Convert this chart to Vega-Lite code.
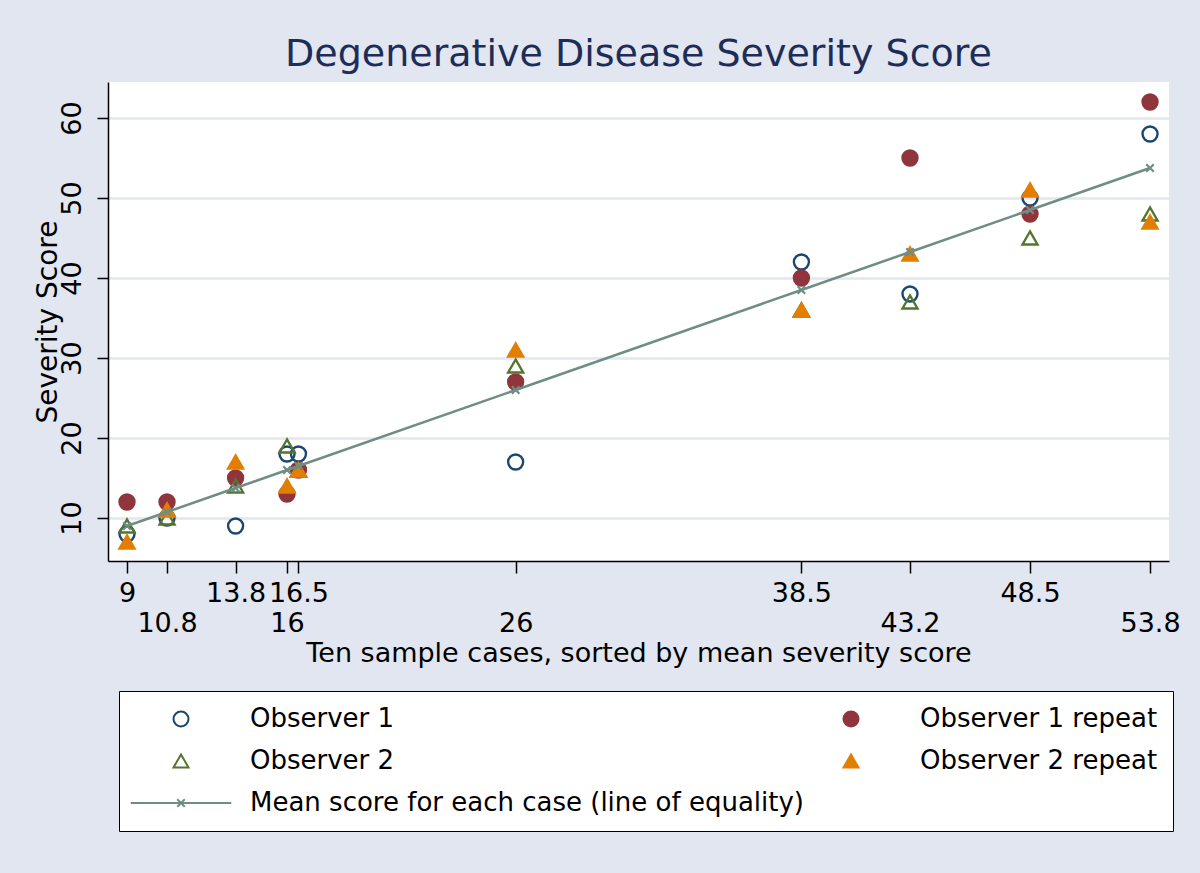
{
  "$schema": "https://vega.github.io/schema/vega-lite/v6.json",
  "width": 1061,
  "height": 479,
  "autosize": {"type": "none"},
  "padding": {"left": 108, "top": 82, "right": 31, "bottom": 312},
  "background": "#e1e6f0",
  "config": {
    "font": "DejaVu Sans",
    "view": {"fill": "white", "stroke": null}
  },
  "title": {
    "text": "Degenerative Disease Severity Score",
    "fontSize": 38,
    "fontWeight": "normal",
    "color": "#1e2d58",
    "anchor": "middle",
    "baseline": "alphabetic",
    "offset": 15,
    "dy": 37
  },
  "data": {
    "values": [
      {"case": 9, "series": "Observer 1", "score": 8},
      {"case": 10.75, "series": "Observer 1", "score": 10},
      {"case": 13.75, "series": "Observer 1", "score": 9},
      {"case": 16, "series": "Observer 1", "score": 18},
      {"case": 16.5, "series": "Observer 1", "score": 18},
      {"case": 26, "series": "Observer 1", "score": 17},
      {"case": 38.5, "series": "Observer 1", "score": 42},
      {"case": 43.25, "series": "Observer 1", "score": 38},
      {"case": 48.5, "series": "Observer 1", "score": 50},
      {"case": 53.75, "series": "Observer 1", "score": 58},
      {"case": 9, "series": "Observer 1 repeat", "score": 12},
      {"case": 10.75, "series": "Observer 1 repeat", "score": 12},
      {"case": 13.75, "series": "Observer 1 repeat", "score": 15},
      {"case": 16, "series": "Observer 1 repeat", "score": 13},
      {"case": 16.5, "series": "Observer 1 repeat", "score": 16},
      {"case": 26, "series": "Observer 1 repeat", "score": 27},
      {"case": 38.5, "series": "Observer 1 repeat", "score": 40},
      {"case": 43.25, "series": "Observer 1 repeat", "score": 55},
      {"case": 48.5, "series": "Observer 1 repeat", "score": 48},
      {"case": 53.75, "series": "Observer 1 repeat", "score": 62},
      {"case": 9, "series": "Observer 2", "score": 9},
      {"case": 10.75, "series": "Observer 2", "score": 10},
      {"case": 13.75, "series": "Observer 2", "score": 14},
      {"case": 16, "series": "Observer 2", "score": 19},
      {"case": 16.5, "series": "Observer 2", "score": 16},
      {"case": 26, "series": "Observer 2", "score": 29},
      {"case": 38.5, "series": "Observer 2", "score": 36},
      {"case": 43.25, "series": "Observer 2", "score": 37},
      {"case": 48.5, "series": "Observer 2", "score": 45},
      {"case": 53.75, "series": "Observer 2", "score": 48},
      {"case": 9, "series": "Observer 2 repeat", "score": 7},
      {"case": 10.75, "series": "Observer 2 repeat", "score": 11},
      {"case": 13.75, "series": "Observer 2 repeat", "score": 17},
      {"case": 16, "series": "Observer 2 repeat", "score": 14},
      {"case": 16.5, "series": "Observer 2 repeat", "score": 16},
      {"case": 26, "series": "Observer 2 repeat", "score": 31},
      {"case": 38.5, "series": "Observer 2 repeat", "score": 36},
      {"case": 43.25, "series": "Observer 2 repeat", "score": 43},
      {"case": 48.5, "series": "Observer 2 repeat", "score": 51},
      {"case": 53.75, "series": "Observer 2 repeat", "score": 47},
      {"case": 9, "series": "Mean score for each case (line of equality)", "score": 9},
      {"case": 10.75, "series": "Mean score for each case (line of equality)", "score": 10.75},
      {"case": 13.75, "series": "Mean score for each case (line of equality)", "score": 13.75},
      {"case": 16, "series": "Mean score for each case (line of equality)", "score": 16},
      {"case": 16.5, "series": "Mean score for each case (line of equality)", "score": 16.5},
      {"case": 26, "series": "Mean score for each case (line of equality)", "score": 26},
      {"case": 38.5, "series": "Mean score for each case (line of equality)", "score": 38.5},
      {"case": 43.25, "series": "Mean score for each case (line of equality)", "score": 43.25},
      {"case": 48.5, "series": "Mean score for each case (line of equality)", "score": 48.5},
      {"case": 53.75, "series": "Mean score for each case (line of equality)", "score": 53.75}
    ]
  },
  "encoding": {
    "x": {
      "field": "case",
      "type": "quantitative",
      "scale": {"domain": [8.169, 54.58], "nice": false, "zero": false},
      "axis": {
        "title": "Ten sample cases, sorted by mean severity score",
        "titleFontSize": 27,
        "titleFontWeight": "normal",
        "titleColor": "black",
        "titleBaseline": "alphabetic",
        "titleY": 100,
        "values": [9, 10.75, 13.75, 16, 16.5, 26, 38.5, 43.25, 48.5, 53.75],
        "labelExpr": "datum.value == 9 ? '9' : datum.value == 10.75 ? ['', '10.8'] : datum.value == 13.75 ? '13.8' : datum.value == 16 ? ['', '16'] : datum.value == 16.5 ? '16.5' : datum.value == 26 ? ['', '26'] : datum.value == 38.5 ? '38.5' : datum.value == 43.25 ? ['', '43.2'] : datum.value == 48.5 ? '48.5' : ['', '53.8']",
        "labelFontSize": 27,
        "labelLineHeight": 30,
        "labelColor": "black",
        "labelOverlap": false,
        "labelFlush": false,
        "labelPadding": 7,
        "tickSize": 12,
        "tickColor": "black",
        "tickWidth": 1.5,
        "domainColor": "black",
        "domainWidth": 1.5,
        "grid": false
      }
    },
    "y": {
      "field": "score",
      "type": "quantitative",
      "scale": {"domain": [4.625, 64.5], "nice": false, "zero": false},
      "axis": {
        "title": "Severity Score",
        "titleFontSize": 28,
        "titleFontWeight": "normal",
        "titleColor": "black",
        "titleAngle": -90,
        "titleBaseline": "alphabetic",
        "titleAlign": "center",
        "titleX": -52,
        "values": [10, 20, 30, 40, 50, 60],
        "labelFontSize": 27,
        "labelColor": "black",
        "labelAngle": -90,
        "labelAlign": "center",
        "labelBaseline": "bottom",
        "labelPadding": 11,
        "tickSize": 11,
        "tickColor": "black",
        "tickWidth": 1.5,
        "domainColor": "black",
        "domainWidth": 1.5,
        "grid": true,
        "gridColor": "#e1e6f0",
        "gridWidth": 2.5
      }
    }
  },
  "layer": [
    {
      "transform": [{"filter": "datum.series !== 'Mean score for each case (line of equality)'"}],
      "mark": {"type": "point", "size": 225, "strokeWidth": 2.4, "opacity": 1},
      "encoding": {
        "shape": {
          "field": "series",
          "type": "nominal",
          "scale": {
            "domain": ["Observer 1", "Observer 2", "Mean score for each case (line of equality)", "Observer 1 repeat", "Observer 2 repeat"],
            "range": ["circle", "triangle-up", "M-6.7,0L6.7,0M-0.5,-0.5L0.5,0.5M-0.5,0.5L0.5,-0.5", "circle", "triangle-up"]
          },
          "legend": {
            "orient": "none",
            "legendX": 11,
            "legendY": 609,
            "columns": 2,
            "title": null,
            "fillColor": "white",
            "strokeColor": "black",
            "padding": 15,
            "labelFontSize": 26,
            "labelColor": "black",
            "labelLimit": 0,
            "symbolSize": 225,
            "symbolStrokeWidth": 2,
            "symbolOffset": 34,
            "labelOffset": 56,
            "columnPadding": 0,
            "rowPadding": 16
          }
        },
        "fill": {
          "field": "series",
          "type": "nominal",
          "scale": {
            "domain": ["Observer 1", "Observer 2", "Mean score for each case (line of equality)", "Observer 1 repeat", "Observer 2 repeat"],
            "range": ["transparent", "transparent", "transparent", "#90353b", "#e37e00"]
          }
        },
        "stroke": {
          "field": "series",
          "type": "nominal",
          "scale": {
            "domain": ["Observer 1", "Observer 2", "Mean score for each case (line of equality)", "Observer 1 repeat", "Observer 2 repeat"],
            "range": ["#1a476f", "#55752f", "#6e8e84", "#90353b", "#e37e00"]
          }
        }
      }
    },
    {
      "transform": [{"filter": "datum.series === 'Mean score for each case (line of equality)'"}],
      "mark": {"type": "line", "color": "#6e8e84", "strokeWidth": 2.5},
      "encoding": {}
    },
    {
      "transform": [{"filter": "datum.series === 'Mean score for each case (line of equality)'"}],
      "mark": {"type": "point", "shape": "M-0.5,-0.5L0.5,0.5M-0.5,0.5L0.5,-0.5", "size": 225, "strokeWidth": 2.2, "opacity": 1},
      "encoding": {
        "fill": {"field": "series", "type": "nominal"},
        "stroke": {"field": "series", "type": "nominal"}
      }
    }
  ]
}
